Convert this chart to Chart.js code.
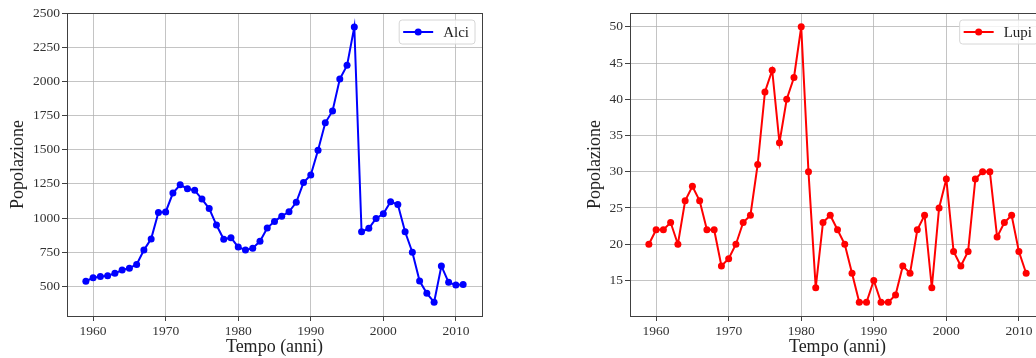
<!DOCTYPE html>
<html>
<head>
<meta charset="utf-8">
<script src="https://cdn.jsdelivr.net/npm/chart.js@4"></script>
<style>
 html, body { margin: 0; padding: 0; background: #fff; overflow: hidden; width: 1036px; height: 358px; }
 .plot { position: absolute; top: 0; }
</style>
</head>
<body>
<canvas id="alciChart" class="plot" width="500" height="358" style="left:0px"></canvas>
<canvas id="lupiChart" class="plot" width="500" height="358" style="left:563px"></canvas>
<script>
var anni = [
 1959, 1960, 1961, 1962, 1963, 1964, 1965, 1966, 1967, 1968,
 1969, 1970, 1971, 1972, 1973, 1974, 1975, 1976, 1977, 1978,
 1979, 1980, 1981, 1982, 1983, 1984, 1985, 1986, 1987, 1988,
 1989, 1990, 1991, 1992, 1993, 1994, 1995, 1996, 1997, 1998,
 1999, 2000, 2001, 2002, 2003, 2004, 2005, 2006, 2007, 2008,
 2009, 2010, 2011,
];

var alci = [
 538, 564, 572, 579, 596, 620, 634, 661, 766, 848,
 1041, 1045, 1183, 1243, 1215, 1203, 1139, 1070, 949, 845,
 857, 788, 767, 780, 830, 927, 976, 1014, 1046, 1116,
 1260, 1315, 1496, 1697, 1784, 2017, 2117, 2398, 900, 925,
 997, 1031, 1120, 1100, 900, 750, 540, 450, 385, 650,
 530, 510, 515,
];

var lupi = [
 20, 22, 22, 23, 20, 26, 28, 26, 22, 22,
 17, 18, 20, 23, 24, 31, 41, 44, 34, 40,
 43, 50, 30, 14, 23, 24, 22, 20, 16, 12,
 12, 15, 12, 12, 13, 17, 16, 22, 24, 14,
 25, 29, 19, 17, 19, 29, 30, 30, 21, 23,
 24, 19, 16,
];

var anniTicks = [1960, 1970, 1980, 1990, 2000, 2010];
var alciTicks = [500, 750, 1000, 1250, 1500, 1750, 2000, 2250, 2500];
var lupiTicks = [15, 20, 25, 30, 35, 40, 45, 50];

var serif = "'Liberation Serif', 'DejaVu Serif', serif";

// full box around the axes + matplotlib-style legend, top right
var boxLegend = {
 id: "boxLegend",
 afterDraw: function (chart, args, opts) {
  var ctx = chart.ctx;
  var area = chart.chartArea;
  ctx.save();

  ctx.strokeStyle = "#404040";
  ctx.lineWidth = 1;
  ctx.strokeRect(
   Math.round(area.left) + 0.5,
   Math.round(area.top) + 0.5,
   Math.round(area.right - area.left),
   Math.round(area.bottom - area.top)
  );

  ctx.font = "15px " + serif;
  var textW = ctx.measureText(opts.text).width;
  var w = 4 + 30 + 10 + textW + 6;
  var h = 24;
  var x = area.right - 7 - w;
  var y = area.top + 7;

  ctx.beginPath();
  ctx.roundRect(x, y, w, h, 3);
  ctx.fillStyle = "rgba(255,255,255,0.8)";
  ctx.fill();
  ctx.strokeStyle = "#d6d6d6";
  ctx.lineWidth = 1;
  ctx.stroke();

  ctx.beginPath();
  ctx.moveTo(x + 4, y + h / 2);
  ctx.lineTo(x + 34, y + h / 2);
  ctx.strokeStyle = opts.color;
  ctx.lineWidth = 2;
  ctx.stroke();
  ctx.beginPath();
  ctx.arc(x + 19, y + h / 2, 3.5, 0, Math.PI * 2);
  ctx.fillStyle = opts.color;
  ctx.fill();

  ctx.fillStyle = "#222";
  ctx.textBaseline = "middle";
  ctx.fillText(opts.text, x + 44, y + h / 2 + 1);
  ctx.restore();
 },
};

function makeChart(canvasId, values, label, color, yTicks, yMin, yMax, titlePad) {
 var points = anni.map(function (a, i) {
  return { x: a, y: values[i] };
 });

 return new Chart(document.getElementById(canvasId), {
  type: "line",
  data: {
   datasets: [
    {
     label: label,
     data: points,
     borderColor: color,
     backgroundColor: color,
     borderWidth: 2,
     pointRadius: 3.5,
     pointBorderWidth: 0,
     pointBackgroundColor: color,
     tension: 0,
    },
   ],
  },
  options: {
   responsive: false,
   animation: false,
   devicePixelRatio: 1,
   layout: {
    padding: { top: 13, right: 18, left: 0, bottom: 0 },
   },
   plugins: {
    legend: { display: false },
    tooltip: { enabled: false },
    boxLegend: { text: label, color: color },
   },
   scales: {
    x: {
     type: "linear",
     min: 1956.4,
     max: 2013.6,
     afterBuildTicks: function (scale) {
      scale.ticks = anniTicks.map(function (v) {
       return { value: v };
      });
     },
     afterFit: function (scale) {
      scale.height = 42;
     },
     grid: {
      color: "rgba(176,176,176,0.75)",
      lineWidth: 1,
      tickColor: "#404040",
      tickLength: 5,
     },
     border: { color: "#404040", width: 1 },
     ticks: {
      color: "#333",
      padding: 2,
      maxRotation: 0,
      font: { family: serif, size: 13.5 },
      callback: function (v) {
       return String(v);
      },
     },
     title: {
      display: true,
      text: "Tempo (anni)",
      color: "#222",
      padding: 0,
      font: { family: serif, size: 18 },
     },
    },
    y: {
     min: yMin,
     max: yMax,
     afterBuildTicks: function (scale) {
      scale.ticks = yTicks.map(function (v) {
       return { value: v };
      });
     },
     afterFit: function (scale) {
      scale.width = 67;
     },
     grid: {
      color: "rgba(176,176,176,0.75)",
      lineWidth: 1,
      tickColor: "#404040",
      tickLength: 5,
     },
     border: { color: "#404040", width: 1 },
     ticks: {
      color: "#333",
      padding: 2,
      font: { family: serif, size: 13.5 },
      callback: function (v) {
       return String(v);
      },
     },
     title: {
      display: true,
      text: "Popolazione",
      color: "#222",
      padding: { top: titlePad, bottom: 0 },
      font: { family: serif, size: 18 },
     },
    },
   },
  },
  plugins: [boxLegend],
 });
}

makeChart("alciChart", alci, "Alci", "#0000ff", alciTicks, 284, 2500, 7);
makeChart("lupiChart", lupi, "Lupi", "#ff0000", lupiTicks, 10.1, 51.9, 21);
</script>
</body>
</html>
